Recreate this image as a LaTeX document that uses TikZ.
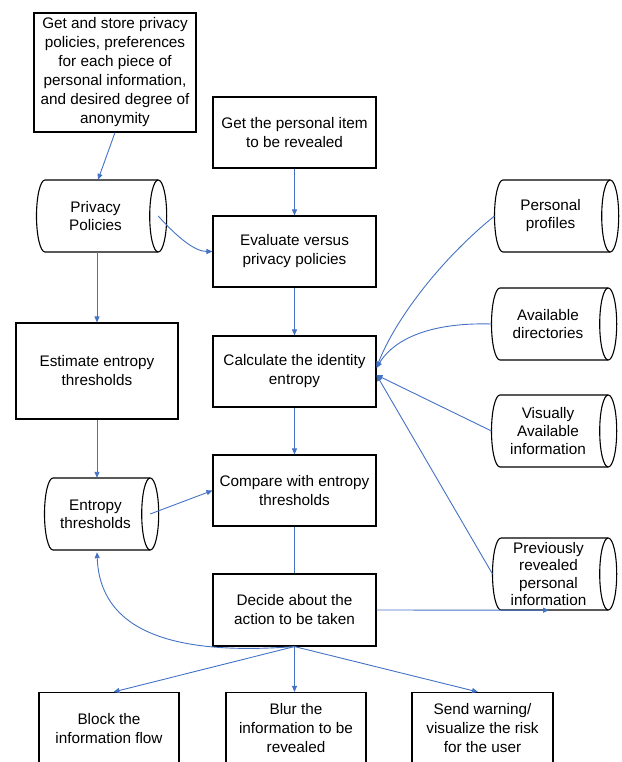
\documentclass[tikz,border=0pt]{standalone}
\usepackage{fontspec}
\setmainfont{Liberation Sans}
\usetikzlibrary{arrows.meta,calc}
\definecolor{flowblue}{HTML}{4472C4}
\newcommand{\drumshape}[6]{%
  \node[minimum width={(#3-#2)*1pt}, minimum height=72pt, inner sep=0pt] (#1) at ({(#2+#3)/2},{#4+36}) {};
  \coordinate (#1-w) at ({#2-8.5},{#4+36});
  \draw[cylline] (#2,#4) -- (#3,#4) (#3,{#4+72}) -- (#2,{#4+72}) (#2,#4) arc[start angle=90,end angle=270,x radius=8.5pt,y radius=36pt];
  \draw[cylline] (#1.east) ellipse[x radius=8.5pt, y radius=36pt];
  \node[cyltext,#6] (#1-t) at ($(#1.center)+(-6,0)$) {#5};
}
\begin{document}
\begin{tikzpicture}[x=1pt,y=-1pt,
  box/.style={draw=black, line width=1.1pt, rectangle, align=center, inner sep=0pt, font=\fontsize{15.3}{19}\selectfont},
  cyltext/.style={align=center, inner sep=0pt, font=\fontsize{15.3}{18}\selectfont},
  cylline/.style={draw=black, line width=1.1pt},
  flow/.style={draw=flowblue, line width=0.9pt, -{Triangle[length=6pt,width=5pt]}},
  flowplain/.style={draw=flowblue, line width=0.9pt}]
\useasboundingbox (0,0) rectangle (621,762);

% boxes
\node[box, minimum width=162pt, minimum height=119pt] (store) at (115,72.5)
  {Get and store privacy\\policies, preferences\\for each piece of\\personal information,\\and desired degree of\\anonymity};
\node[box, minimum width=163pt, minimum height=71pt] (get) at (294.5,132.5) {Get the personal item\\to be revealed};
\node[box, minimum width=163pt, minimum height=71pt] (eval) at (294.5,251.5) {Evaluate versus\\privacy policies};
\node[box, minimum width=163pt, minimum height=71pt] (calc) at (294.5,371.5) {Calculate the identity\\entropy};
\node[box, minimum width=163pt, minimum height=71pt] (comp) at (294.5,490.5) {Compare with entropy\\thresholds};
\node[box, minimum width=163pt, minimum height=72pt] (decide) at (294.5,610) {Decide about the\\action to be taken};
\node[box, minimum width=162pt, minimum height=96pt] (est) at (97,371) {Estimate entropy\\thresholds};
\node[box, minimum width=140pt, minimum height=72pt] (block) at (109,728.5) {Block the\\information flow};
\node[box, minimum width=140pt, minimum height=72pt] (blur) at (296,728.5) {Blur the\\information to be\\revealed};
\node[box, minimum width=141pt, minimum height=72pt] (send) at (482.5,728.5) {Send warning/\\visualize the risk\\for the user};

% cylinders
\drumshape{pp}{45}{158}{180}{Privacy\\Policies}{}
\drumshape{et}{53}{150}{478}{Entropy\\thresholds}{}
\drumshape{prof}{503}{610}{180}{Personal\\profiles}{}
\drumshape{dir}{500}{608}{288}{Available\\directories}{}
\drumshape{vis}{500}{608}{395}{Visually\\Available\\information}{}
\drumshape{prev}{501}{608}{538}{Previously\\revealed\\personal\\information}{font=\fontsize{15.3}{17.3}\selectfont}

% connectors
\draw[flow] (store.south) -- ($(pp.north)+(-3.5,0)$);
\draw[flow] (get) -- (eval);
\draw[flow] (pp.east) .. controls (178,238) and (195,251.5) .. (eval.west);
\draw[flow] (est.north |- pp.south) -- (est.north);
\draw[flow] (est.south) -- (est.south |- et.north);
\draw[flow] (et.east) -- (comp.west);
\draw[flow] (eval) -- (calc);
\draw[flow] (calc) -- (comp);
\draw[flowplain] (comp) -- (decide);
\draw[flow] (prof-w) .. controls (440,260) and (395,320) .. ($(calc.east)+(0,-4)$);
\draw[flow] (dir-w) .. controls (420,322) and (390,345) .. ($(calc.east)+(0,-3.5)$);
\draw[flow] (vis-w) -- ($(calc.east)+(0,3.5)$);
\draw[flow] (prev-w) -- ($(calc.east)+(0,3.5)$);
\draw[flow] (decide.east) -- ($(prev.south)+(-5.5,0)$);
\draw[flow] (decide.south) .. controls (170,656) and (100,630) .. ($(et.south)+(-4.5,2)$);
\draw[flow] (decide.south) -- ($(block.north)+(4.5,0)$);
\draw[flow] (decide.south) -- (decide.south |- blur.north);
\draw[flow] (decide.south) -- ($(send.north)+(-4.5,0)$);
\end{tikzpicture}
\end{document}
